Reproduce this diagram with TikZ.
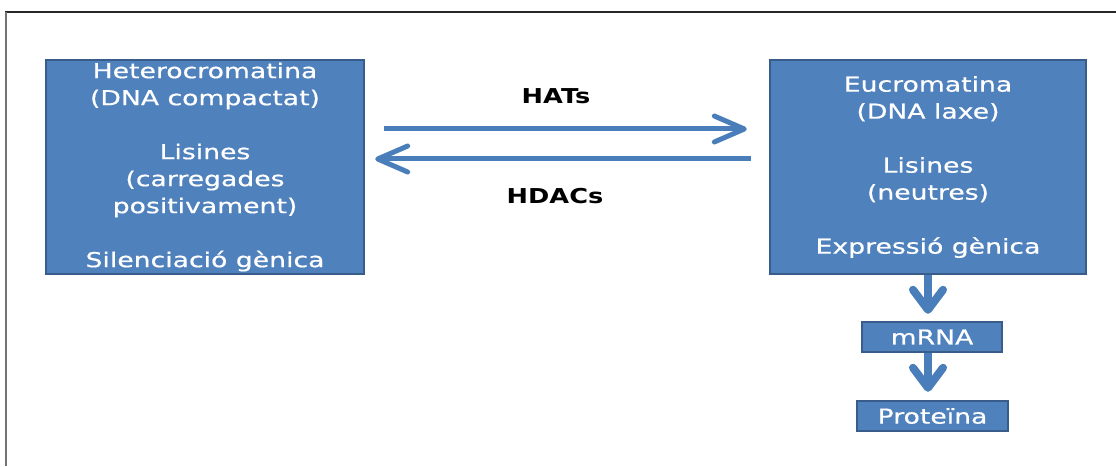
\documentclass[tikz,border=0pt]{standalone}
\usepackage{fontspec}
\setmainfont{DejaVu Sans}[FakeStretch=1.3,FakeBold=0.6]
\newfontfamily\lblfont{DejaVu Sans Bold}[FakeStretch=1.25]
\usetikzlibrary{arrows.meta}
\definecolor{boxfill}{HTML}{4F81BD}
\definecolor{boxline}{HTML}{385D8A}
\definecolor{arrowblue}{HTML}{4A7EBB}
\tikzset{
  bluebox/.style={draw=boxline, line width=2.4pt, fill=boxfill, text=white, inner sep=0pt, align=center, font=\fontsize{20.5}{27}\selectfont},
  lbl/.style={inner sep=0pt, font=\lblfont\fontsize{20.5}{24}\selectfont},
  harrow/.style={draw=arrowblue, line width=5pt, -{Straight Barb[length=30pt,width=26pt,line width=5pt,round]}},
  varrow/.style={draw=arrowblue, line width=8pt, -{Straight Barb[length=20pt,width=30pt,line width=8pt,round]}}
}
\begin{document}
\begin{tikzpicture}[x=1pt,y=1pt]
\useasboundingbox (0,0) rectangle (1116,466);
\fill[white] (0,0) rectangle (1116,466);
\draw[black!85, line width=1.5pt] (5,454) -- (1116,454);
\draw[black!55, line width=2pt] (6,454) -- (6,0);
\node[bluebox, minimum width=318pt, minimum height=214pt] (left) at (205,299)
  {Heterocromatina\\(DNA compactat)\\[27pt]Lisines\\(carregades\\positivament)\\[27pt]Silenciació gènica};
\node[bluebox, minimum width=316pt, minimum height=214pt] (right) at (928,299)
  {Eucromatina\\(DNA laxe)\\[27pt]Lisines\\(neutres)\\[27pt]Expressió gènica};
\node[bluebox, minimum width=140pt, minimum height=30pt] (mrna) at (932,129) {mRNA};
\node[bluebox, minimum width=151pt, minimum height=30pt] (prot) at (932.5,50) {Proteïna};
\node[lbl] (hats) at (556,370) {HATs};
\node[lbl] (hdacs) at (555,270) {HDACs};
\draw[harrow, shorten <=19pt, shorten >=22pt] (left.east |- 0,337) -- (right.west |- 0,337);
\draw[harrow, shorten <=18pt, shorten >=10pt] (right.west |- 0,307) -- (left.east |- 0,307);
\draw[varrow, shorten >=7pt] (right.south) -- (right.south |- mrna.north);
\draw[varrow, shorten >=8pt] (mrna.south -| right.south) -- (right.south |- prot.north);
\end{tikzpicture}
\end{document}
